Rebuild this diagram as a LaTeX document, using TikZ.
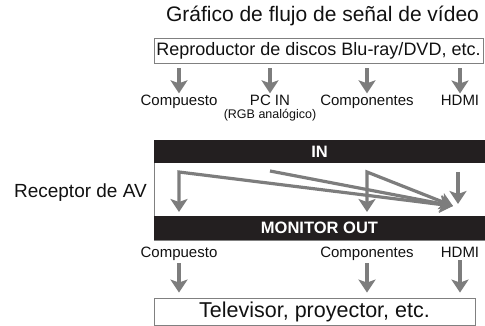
\documentclass[tikz,border=0pt]{standalone}
\usepackage{fontspec}
\setmainfont{Liberation Sans}
\usepackage{tikz}
\usetikzlibrary{arrows.meta}
\definecolor{FontColor}{HTML}{111111}
\definecolor{GrayArrow}{HTML}{7d7d7d}
\definecolor{DarkBand}{HTML}{231f20}
\newcommand\nodetitle{Gráfico de flujo de señal de vídeo}
\newcommand\nodeplayer{Reproductor de discos Blu-ray/DVD, etc.}
\newcommand\nodecomp{Compuesto}
\newcommand\nodepc{PC IN}
\newcommand\nodergb{(RGB analógico)}
\newcommand\nodecmp{Componentes}
\newcommand\nodehdmi{HDMI}
\newcommand\nodeav{Receptor de AV}
\newcommand\nodein{IN}
\newcommand\nodeout{MONITOR OUT}
\newcommand\nodetv{Televisor, proyector, etc.}
\tikzstyle{lab} = [inner sep=0pt, text=FontColor, font=\fontsize{15}{16}\selectfont]
\tikzstyle{frame} = [rectangle, draw=gray, line width=0.8pt, inner sep=0pt, text=FontColor]
\tikzstyle{band} = [rectangle, fill=DarkBand, inner sep=0pt, text=white, font=\bfseries\fontsize{16.5}{18}\selectfont]
\tikzstyle{sig} = [->, draw=GrayArrow, line width=3.6pt]
\tikzstyle{flow} = [sig, line width=3.2pt, line join=miter]
\tikzset{>={Stealth[length=13pt, width=17pt, inset=3pt]}}

\begin{document}
\begin{tikzpicture}[x=1pt, y=-1pt]
\useasboundingbox (0, 0) rectangle (485, 326);
\node[text=FontColor, font=\fontsize{21}{24}\selectfont] (title) at (322.5, 16) {\nodetitle};
\node[frame, minimum width=329pt, minimum height=25pt, font=\fontsize{18}{20}\selectfont] (player) at (318.5, 50.5) {\nodeplayer};
\node[lab, anchor=base] (tcomp) at (179, 106) {\nodecomp};
\node[lab, anchor=base] (tpc) at (270, 106) {\nodepc};
\node[lab, anchor=base, font=\fontsize{12.5}{14}\selectfont] (trgb) at (270, 119) {\nodergb};
\node[lab, anchor=base] (tcmp) at (367, 106) {\nodecmp};
\node[lab, anchor=base] (thdmi) at (460, 106) {\nodehdmi};
\node[frame, minimum width=331pt, minimum height=100pt] (rx) at (319.5, 190) {};
\node[band, minimum width=331pt, minimum height=23pt] (in) at (319.5, 151.5) {\nodein};
\node[band, minimum width=331pt, minimum height=24pt] (out) at (319.5, 228) {\nodeout};
\node[text=FontColor, font=\fontsize{19}{22}\selectfont, anchor=base east, inner sep=0pt] (av) at (147, 197) {\nodeav};
\node[lab, anchor=base] (bcomp) at (179, 257) {\nodecomp};
\node[lab, anchor=base] (bcmp) at (367, 257) {\nodecmp};
\node[lab, anchor=base] (bhdmi) at (460, 257) {\nodehdmi};
\node[frame, minimum width=321pt, minimum height=27pt, font=\fontsize{21.5}{24}\selectfont] (tv) at (314.5, 311.5) {\nodetv};
\coordinate (cin) at (179, 172);
\coordinate (cdn) at (179, 212);
\coordinate (pin) at (270, 171);
\coordinate (kin) at (367, 172);
\coordinate (kdn) at (367, 212);
\coordinate (hin) at (458, 172);
\coordinate (hdn) at (458, 204);
\coordinate (hout) at (453, 206);
\draw [sig] ([yshift=-5pt]player.south -| tcomp) -- ([yshift=2pt]tcomp.north);
\draw [sig] ([yshift=-5pt]player.south -| tpc) -- ([yshift=2pt]tpc.north);
\draw [sig] ([yshift=-5pt]player.south -| tcmp) -- ([yshift=2pt]tcmp.north);
\draw [sig] ([yshift=-5pt]player.south -| thdmi) -- ([yshift=2pt]thdmi.north);
\draw [flow, <->] (cdn) -- (cin) -- (hout);
\draw [flow] (pin) -- (hout);
\draw [flow, <->] (kdn) -- (kin) -- (hout);
\draw [flow] (hin) -- (hdn);
\draw [sig] ([yshift=-3pt]bcomp.south) -- ([yshift=5pt]tv.north -| bcomp);
\draw [sig] ([yshift=-3pt]bcmp.south) -- ([yshift=5pt]tv.north -| bcmp);
\draw [sig] ([yshift=-3pt]bhdmi.south) -- ([yshift=5pt]tv.north -| bhdmi);
\end{tikzpicture}
\end{document}
